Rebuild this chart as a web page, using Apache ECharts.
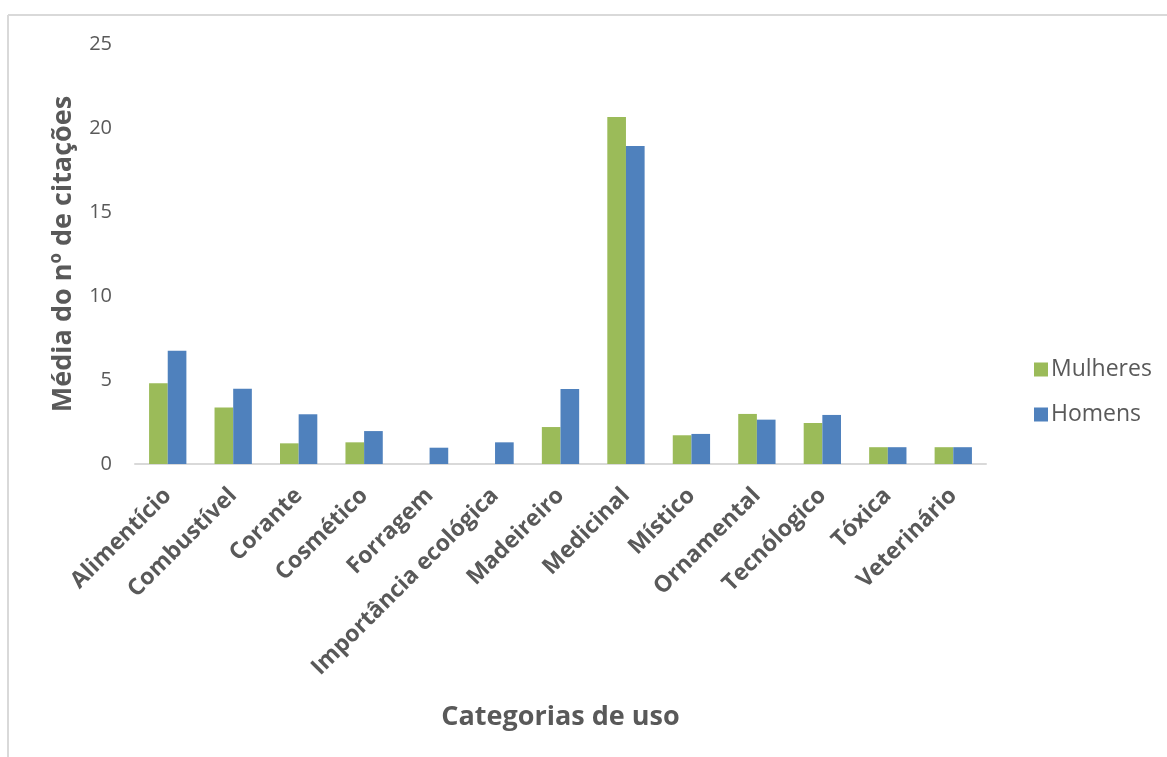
<!DOCTYPE html>
<html>
<head>
<meta charset="utf-8">
<script src="https://cdn.jsdelivr.net/npm/echarts@6/dist/echarts.min.js"></script>
<style>
html,body{margin:0;padding:0;background:#fff;}
#chart{width:1167px;height:757px;}
</style>
</head>
<body>
<div id="chart"></div>
<script>
const categories = ['Alimentício','Combustível','Corante','Cosmético','Forragem','Importância ecológica','Madeireiro','Medicinal','Místico','Ornamental','Tecnólogico','Tóxica','Veterinário'];
const mulheres = [4.8, 3.37, 1.23, 1.29, 0, 0, 2.2, 20.65, 1.71, 2.98, 2.44, 1, 1];
const homens = [6.74, 4.48, 2.96, 1.96, 0.97, 1.29, 4.46, 18.93, 1.79, 2.64, 2.92, 1, 1];
const seriesNames = ['Mulheres','Homens'];
const yTicks = [0, 5, 10, 15, 20, 25];

const FONT = '"Open Sans", Lato, sans-serif';
const chart = echarts.init(document.getElementById('chart'));
chart.setOption({
  animation: false,
  backgroundColor: '#fff',
  graphic: [
    {type:'line', shape:{x1:8,y1:15,x2:1167,y2:15}, style:{stroke:'#d9d9d9', lineWidth:2}},
    {type:'line', shape:{x1:8,y1:15,x2:8,y2:757}, style:{stroke:'#d9d9d9', lineWidth:2}}
  ],
  legend: {
    orient: 'vertical',
    left: 1029, top: 353,
    itemWidth: 14, itemHeight: 14, itemGap: 22,
    icon: 'rect',
    data: seriesNames,
    textStyle: {fontFamily: FONT, fontSize: 23, color: '#595959', padding:[0,0,0,-2]}
  },
  grid: {left: 135, right: 181, top: 44, bottom: 293, containLabel: false},
  xAxis: {
    type: 'category',
    data: categories,
    name: 'Categorias de uso',
    nameLocation: 'middle',
    nameGap: 240,
    nameTextStyle: {fontFamily: FONT, fontWeight: 'bold', fontSize: 27, color: '#595959'},
    axisLine: {lineStyle: {color: '#d9d9d9', width: 2}},
    axisTick: {show: false},
    axisLabel: {rotate: 45, interval: 0, fontFamily: FONT, fontWeight: 'bold', fontSize: 23, color: '#595959', margin: 28}
  },
  yAxis: {
    type: 'value',
    min: yTicks[0], max: yTicks[yTicks.length-1], interval: 5,
    name: 'Média do nº de citações',
    nameLocation: 'middle',
    nameGap: 58,
    nameTextStyle: {fontFamily: FONT, fontWeight: 'bold', fontSize: 27, color: '#595959'},
    axisLine: {show: false},
    axisTick: {show: false},
    splitLine: {show: false},
    axisLabel: {fontFamily: FONT, fontSize: 20, color: '#595959', margin: 23}
  },
  series: [
    {name: seriesNames[0], type: 'bar', data: mulheres, barGap: '0%', barCategoryGap: '43%', itemStyle: {color: '#9BBB59'}},
    {name: seriesNames[1], type: 'bar', data: homens, barGap: '0%', barCategoryGap: '43%', itemStyle: {color: '#4F81BD'}}
  ]
});
</script>
</body>
</html>
